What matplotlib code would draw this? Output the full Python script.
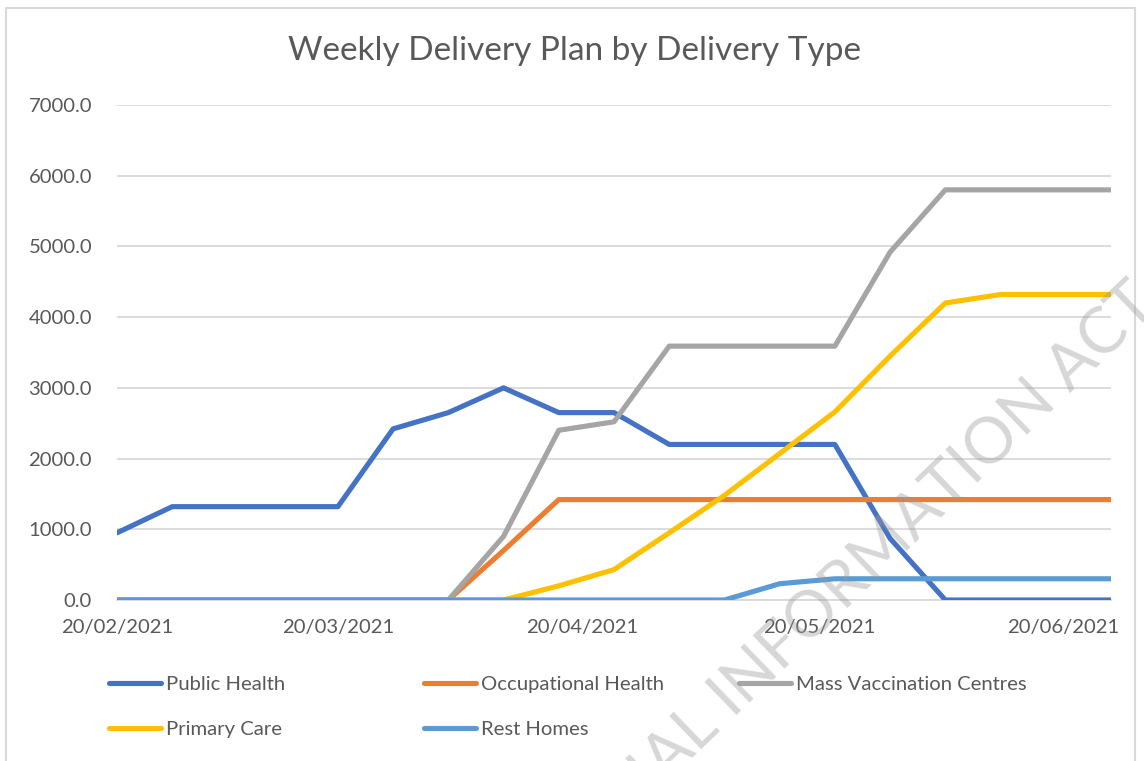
import matplotlib
matplotlib.use("Agg")
import matplotlib.pyplot as plt
import matplotlib.dates as mdates
from matplotlib.lines import Line2D
from matplotlib.patches import Rectangle
import pandas as pd

# ---------------- data ----------------
weeks = ["2021-02-20", "2021-02-27", "2021-03-06", "2021-03-13", "2021-03-20",
         "2021-03-27", "2021-04-03", "2021-04-10", "2021-04-17", "2021-04-24",
         "2021-05-01", "2021-05-08", "2021-05-15", "2021-05-22", "2021-05-29",
         "2021-06-05", "2021-06-12", "2021-06-19", "2021-06-26"]
public_health = [950, 1320, 1320, 1320, 1320, 2420, 2650, 3000, 2650, 2650,
                 2200, 2200, 2200, 2200, 870, 0, 0, 0, 0]
occupational_health = [0, 0, 0, 0, 0, 0, 0, 700, 1420, 1420,
                       1420, 1420, 1420, 1420, 1420, 1420, 1420, 1420, 1420]
mass_vaccination = [0, 0, 0, 0, 0, 0, 0, 900, 2400, 2520,
                    3590, 3590, 3590, 3590, 4920, 5800, 5800, 5800, 5800]
primary_care = [0, 0, 0, 0, 0, 0, 0, 0, 200, 430,
                950, 1480, 2070, 2660, 3450, 4200, 4320, 4320, 4320]
rest_homes = [0, 0, 0, 0, 0, 0, 0, 0, 0, 0,
              0, 0, 230, 300, 300, 300, 300, 300, 300]

series_names = ["Public Health", "Occupational Health", "Mass Vaccination Centres",
                "Primary Care", "Rest Homes"]
series_values = [public_health, occupational_health, mass_vaccination,
                 primary_care, rest_homes]
series_colors = ["#4472C4", "#ED7D31", "#A5A5A5", "#FFC000", "#5B9BD5"]

x_tick_dates = ["2021-02-20", "2021-03-20", "2021-04-20", "2021-05-20", "2021-06-20"]
y_ticks = [0, 1000, 2000, 3000, 4000, 5000, 6000, 7000]
title = "Weekly Delivery Plan by Delivery Type"
watermark = "OFFICIAL INFORMATION ACT"

# ---------------- drawing ----------------
FONT = ["Lato", "DejaVu Sans"]
plt.rcParams["font.family"] = FONT
TXT = "#595959"

W, H = 1144, 761
fig = plt.figure(figsize=(W / 100, H / 100), dpi=100)
fig.patch.set_facecolor("white")

# chart frame
fig.patches.append(Rectangle((6 / W, -0.05), (1135 - 6) / W, 1 - 8 / H + 0.05,
                             transform=fig.transFigure, fill=False,
                             edgecolor="#D9D9D9", linewidth=1.5, zorder=0))

ax = fig.add_axes([117 / W, 1 - 600 / H, (1111 - 117) / W, (600 - 105) / H])
ax.set_facecolor("none")

x = pd.to_datetime(weeks)
for name, vals, col in zip(series_names, series_values, series_colors):
    ax.plot(x, vals, color=col, linewidth=3.7, solid_capstyle="round",
            solid_joinstyle="round", label=name, zorder=3)

ax.set_xlim(x[0], x[-1])
ax.set_ylim(0, 7000)
ax.set_yticks(y_ticks)
ax.set_yticklabels([f"{v:.1f}" for v in y_ticks])
ax.set_xticks(pd.to_datetime(x_tick_dates))
ax.xaxis.set_major_formatter(mdates.DateFormatter("%d/%m/%Y"))
ax.grid(axis="y", color="#D9D9D9", linewidth=1.3, zorder=0)
for s in ["top", "right", "left"]:
    ax.spines[s].set_visible(False)
ax.spines["bottom"].set_color("#D9D9D9")
ax.spines["bottom"].set_linewidth(1.3)
ax.spines["bottom"].set_zorder(1)
ax.tick_params(axis="both", length=0, labelsize=14.6, colors=TXT)
ax.tick_params(axis="y", pad=18)
ax.tick_params(axis="x", pad=14)

fig.text(575 / W, 1 - 51 / H, title, ha="center", va="center",
         fontsize=24, color=TXT)

# legend (manual layout, 3 columns x 2 rows)
leg_pos = [(110, 684), (425, 684), (740, 684), (110, 729), (425, 729)]
for (px, py), name, col in zip(leg_pos, series_names, series_colors):
    h = Line2D([0], [0], color=col, linewidth=3.7, solid_capstyle="round")
    lg = fig.legend([h], [name], loc="center left",
                    bbox_to_anchor=(px / W - 0.001, 1 - py / H),
                    frameon=False, fontsize=14.6, handlelength=2.55,
                    handletextpad=0.25, borderpad=0, borderaxespad=0)
    for t in lg.get_texts():
        t.set_color(TXT)

# watermark
fig.text(828 / W, 1 - 603 / H, watermark, ha="center", va="center",
         rotation=44, rotation_mode="anchor", fontsize=46,
         color="#9A9A9A", alpha=0.4, zorder=10)

fig.savefig("out.png", dpi=100)
